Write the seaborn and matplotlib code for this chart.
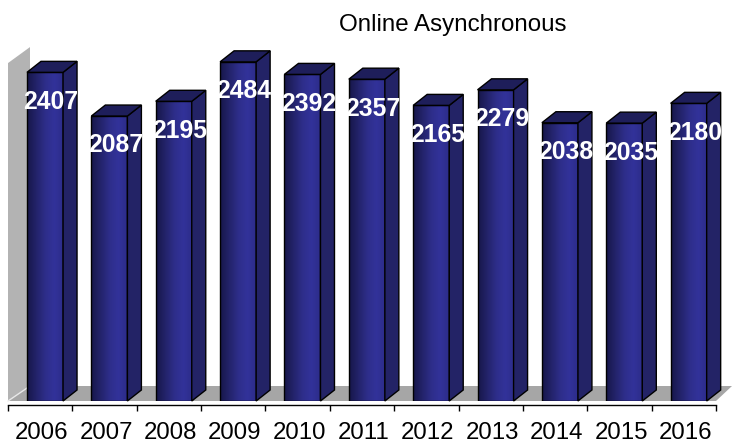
import numpy as np
import matplotlib
matplotlib.use("Agg")
import matplotlib.pyplot as plt
from matplotlib.patches import Polygon
from matplotlib.colors import LinearSegmentedColormap
import pandas as pd
import seaborn as sns

# Enrollment in online asynchronous sections by year
years = ["2006", "2007", "2008", "2009", "2010", "2011",
         "2012", "2013", "2014", "2015", "2016"]
enrollment = [2407, 2087, 2195, 2484, 2392, 2357, 2165, 2279, 2038, 2035, 2180]
chart_title = "Online Asynchronous"

sns.set_theme(style="white")
plt.rcParams["font.family"] = ["Liberation Sans", "DejaVu Sans"]

W, H = 732, 446
fig = plt.figure(figsize=(W / 100, H / 100), dpi=100)
ax = fig.add_axes([8 / W, 45 / H, 708 / W, 355 / H])

df = pd.DataFrame({"year": years, "count": enrollment})
sns.barplot(data=df, x="year", y="count", width=0.56, color="#2a2a7a",
            edgecolor="black", linewidth=1.0, ax=ax, zorder=5)

XMIN, XMAX = -0.575, 10.425
YMAX = 2600
ax.set_xlim(XMIN, XMAX)
ax.set_ylim(0, YMAX)

# pixel -> data unit conversions for the pseudo-3D depth
ux = 708 / (XMAX - XMIN)
uy = 355 / YMAX
bdx, bdy = 14 / ux, 11 / uy

# back wall and floor
wdx, wdy = 22 / ux, 16 / uy
wall_top = 2475
wall = Polygon([(XMIN, 0), (XMIN, wall_top), (XMIN + wdx, wall_top + wdy),
                (XMIN + wdx, 15 / uy)], closed=True, facecolor="#b3b3b3",
               edgecolor="none", zorder=1, clip_on=False)
ax.add_patch(wall)
floor = Polygon([(XMIN, 0), (XMAX, 0), (XMAX + 16 / ux, 15 / uy),
                 (XMIN + wdx, 15 / uy)], closed=True, facecolor="#a6a6a6",
                edgecolor="none", zorder=2, clip_on=False)
ax.add_patch(floor)
ax.plot([XMIN, XMIN + wdx], [0, 15 / uy], color="#e8e8e8", lw=1.0,
        zorder=3, clip_on=False)

front_cmap = LinearSegmentedColormap.from_list(
    "front", ["#17174a", "#23236a", "#2e2e8a", "#32329a", "#2c2c88"])
grad = np.linspace(0, 1, 64).reshape(1, -1)

bars = list(ax.patches[:len(enrollment)])
for p, val in zip(bars, enrollment):
    x0, w, h = p.get_x(), p.get_width(), p.get_height()
    p.set_facecolor("none")
    im = ax.imshow(grad, extent=[x0, x0 + w, 0, h], aspect="auto",
                   cmap=front_cmap, zorder=4, interpolation="bilinear")
    im.set_clip_path(p)
    side = Polygon([(x0 + w, 0), (x0 + w + bdx, bdy), (x0 + w + bdx, h + bdy),
                    (x0 + w, h)], closed=True, facecolor="#232366",
                   edgecolor="black", lw=1.0, zorder=5, clip_on=False)
    top = Polygon([(x0, h), (x0 + w, h), (x0 + w + bdx, h + bdy),
                   (x0 + bdx, h + bdy)], closed=True, facecolor="#1e1e5a",
                  edgecolor="black", lw=1.0, zorder=5, clip_on=False)
    ax.add_patch(side)
    ax.add_patch(top)
    ax.annotate(f"{val}", xy=(x0 + w / 2, h), xytext=(4.3, -21.2),
                textcoords="offset points", ha="center", va="center",
                color="white", fontsize=17.8, fontweight="bold", zorder=10)

ax.set_xlim(XMIN, XMAX)
ax.set_ylim(0, YMAX)

for s in ["left", "right", "top"]:
    ax.spines[s].set_visible(False)
ax.spines["bottom"].set_position(("outward", 3))
ax.spines["bottom"].set_color("black")
ax.spines["bottom"].set_linewidth(1.0)

ax.set_xticks(np.arange(len(years)) - 0.05, labels=years)
ax.set_xticks(np.arange(len(years) + 1) + XMIN, minor=True)
ax.tick_params(axis="x", which="major", length=0, pad=12, labelsize=17.3,
               colors="black")
ax.tick_params(axis="x", which="minor", bottom=True, length=4.5, width=1.0,
               color="black", direction="out")
ax.set_yticks([])
ax.set_xlabel("")
ax.set_ylabel("")
ax.patch.set_alpha(0)

fig.text(453 / W, 1 - 30.5 / H, chart_title, ha="center", va="baseline",
         fontsize=17.4, color="black")

fig.savefig("out.png", dpi=100)
